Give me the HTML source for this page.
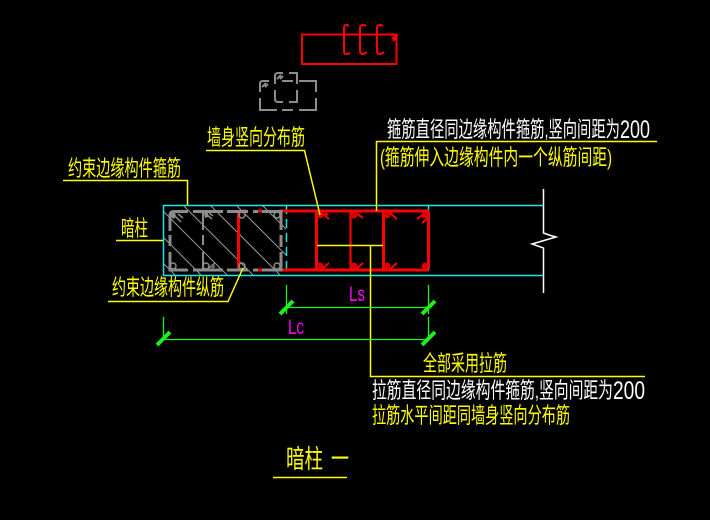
<!DOCTYPE html>
<html><head><meta charset="utf-8"><style>
html,body{margin:0;padding:0;background:#000;width:710px;height:520px;overflow:hidden}
svg{display:block}
text{font-family:"Liberation Sans","WenQuanYi Zen Hei","Noto Sans CJK SC",sans-serif}
</style></head><body>
<svg width="710" height="520" viewBox="0 0 710 520" xmlns="http://www.w3.org/2000/svg" fill="none">
<rect width="710" height="520" fill="#000"/>
<!-- top detail -->
<rect x="302" y="34.500" width="94.500" height="29.500" stroke="#f00" stroke-width="2"/>
<g stroke="#f00" stroke-width="2">
<path d="M349 26l-2-1h-1q-2 0-2 3v23q0 3 2 3h1l3-1"/>
<path d="M366 26l-2-1h-1q-3 0-3 3v23q0 3 3 3h1l3-2"/>
<path d="M383 26l-2-1h-1q-3 0-3 3v23q0 3 3 3h1l3-2"/>
<path d="M392 39l4-4M393 41l3-3"/>
</g>
<g stroke="#8c8c8c" stroke-width="2">
<path d="M260 92V84q0-3 3-3h6M282 81h11M299 81h17v11M316 98v12H299M293 110H282M277 110H260V98"/>
<path d="M275 84V76q0-3 3-3h5M289 73h8v11M297 90v12h-8M283 102h-5q-3 0-3-3v-9"/>
<path d="M262 87l4-4M265 87l3-3M277 79l4-4M280 79l3-3"/>
</g>
<!-- hatch -->
<g stroke="#9a9a9a" stroke-width="1">
<path d="M163 211L227 275M163 237L201 275M163 263L175 275M183 205L253 275M210 205L280 275M236 205L286 255M262 205L286 229"/>
</g>
<!-- cyan wall -->
<g stroke="#1fe6e6" stroke-width="1.500">
<path d="M543 205.500H163.500V275.500H543"/>
<path d="M286.500 205V275M428.500 205V275" stroke-dasharray="9 5"/>
</g>
<!-- break line -->
<path d="M543.500 189V233L549 235L556 237L532 244L543.500 248V293" stroke="#fff" stroke-width="1.500"/>
<!-- red stirrups -->
<g stroke="#f00">
<path d="M279 211H429M279 270H429" stroke-width="3"/>
<path d="M238.500 212V269" stroke-width="3"/>
<path d="M242 211h4M258 211h4M242 270h4M258 270h4" stroke-width="3"/>
<path d="M316.500 211V270M383.500 211V270M428.500 212V268" stroke-width="3"/>
<path d="M350.500 211V270" stroke-width="2.200"/>
<g stroke-width="2">
<path d="M322 213l7 6M325 213l3 2M356 213l7 5M390 213l7 6M417 219l8-6M422 223l6-5M322 269l7-6M356 269l7-6M390 269l7-6"/>
</g>
</g>
<g fill="#d80000">
<circle cx="320" cy="215" r="3.500"/><circle cx="354" cy="215" r="3.500"/><circle cx="387" cy="215" r="3.500"/><circle cx="425" cy="215" r="3.500"/>
<circle cx="320" cy="266" r="3.500"/><circle cx="354" cy="266" r="3.500"/><circle cx="387" cy="266" r="3.500"/><circle cx="425" cy="266" r="3.500"/>
</g>
<!-- gray stirrups -->
<g stroke="#8c8c8c" stroke-width="3">
<path d="M188 211.500H174q-4 0-4 4V231M170 235V246M170 252V270H188"/>
<path d="M193 211.500H223M193 270H223M227 211.500H248M227 270H248M253 211.500H258M262 211.500H275M253 270H258M262 270H275M273 211.500H281V230M273 270H281V252M281 235V247"/>
</g>
<path d="M203 212V230M203 235V245M203 252V270" stroke="#8c8c8c" stroke-width="2"/>
<g stroke="#8c8c8c" stroke-width="1.500">
<circle cx="173" cy="266" r="3"/><circle cx="206" cy="266" r="3"/><circle cx="242" cy="266" r="3"/><circle cx="277" cy="266" r="3"/>
<circle cx="242" cy="215" r="3"/><circle cx="277" cy="215" r="3"/>
<path d="M175 216l6 6M178 214l5 4M206 214l6 5M209 213l4 3M209 268l6-5M212 268l3-2"/>
</g>
<path d="M170 215l5-3 1 5-3 2z" fill="#8c8c8c"/><path d="M204 213l4 0 0 4-3 1z" fill="#8c8c8c"/>
<!-- yellow leaders -->
<g stroke="#ff0" stroke-width="1.500">
<path d="M63 180.500H187.500V205"/>
<path d="M206 150.500H304.500L320 215"/>
<path d="M116 240.500H163"/>
<path d="M108 301.500H228L243 268"/>
<path d="M317 245.500H383"/>
<path d="M370.500 245.500V376.500H645"/>
<path d="M376.500 211V141.500H657"/>
<path d="M273 477.500H347"/>
</g>
<!-- dimensions -->
<g stroke="#1ef01e" stroke-width="1.300">
<path d="M286.500 285V314M428.500 285V314M163.500 317V340M428.500 317V340M286 307.500H428M163 339.500H428"/>
</g>
<g stroke="#1ef01e" stroke-width="4">
<path d="M280 314L293 301M422 314L435 301M157 345L170 332M422 345L435 332"/>
</g>
<!-- labels -->
<g font-size="22">
<text x="68" y="176" fill="#ff0" textLength="113" lengthAdjust="spacingAndGlyphs">约束边缘构件箍筋</text>
<text x="207" y="145" fill="#ff0" textLength="98" lengthAdjust="spacingAndGlyphs">墙身竖向分布筋</text>
<text x="121" y="236" fill="#ff0" textLength="27" lengthAdjust="spacingAndGlyphs">暗柱</text>
<text x="112" y="295" fill="#ff0" textLength="112" lengthAdjust="spacingAndGlyphs">约束边缘构件纵筋</text>
<text x="387" y="137" fill="#fff" textLength="233" lengthAdjust="spacingAndGlyphs">箍筋直径同边缘构件箍筋,竖向间距为</text>
<text x="620" y="138" fill="#fff" font-size="25" textLength="30" lengthAdjust="spacingAndGlyphs">200</text>
<text x="380" y="165" fill="#ff0" textLength="232" lengthAdjust="spacingAndGlyphs">(箍筋伸入边缘构件内一个纵筋间距)</text>
<text x="423" y="371" fill="#ff0" textLength="84" lengthAdjust="spacingAndGlyphs">全部采用拉筋</text>
<text x="372" y="398" fill="#fff" textLength="241" lengthAdjust="spacingAndGlyphs">拉筋直径同边缘构件箍筋,竖向间距为</text>
<text x="613" y="399" fill="#fff" font-size="25" textLength="32" lengthAdjust="spacingAndGlyphs">200</text>
<text x="372" y="423" fill="#ff0" textLength="198" lengthAdjust="spacingAndGlyphs">拉筋水平间距同墙身竖向分布筋</text>
</g>
<text x="286" y="468" font-size="26" fill="#ff0" textLength="37" lengthAdjust="spacingAndGlyphs">暗柱</text>
<text x="331" y="468" font-size="26" fill="#ff0" textLength="18" lengthAdjust="spacingAndGlyphs">一</text>
<text x="349" y="301" font-size="21" fill="#f0f" textLength="16" lengthAdjust="spacingAndGlyphs">Ls</text>
<text x="288" y="334" font-size="21" fill="#f0f" textLength="16" lengthAdjust="spacingAndGlyphs">Lc</text>
</svg>
</body></html>
